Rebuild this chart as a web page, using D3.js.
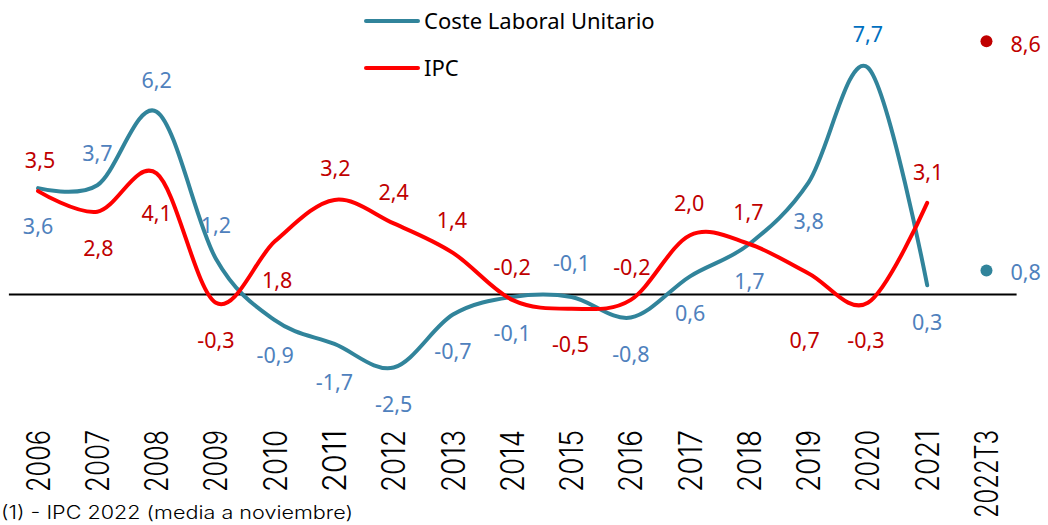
<!DOCTYPE html>
<html>
<head>
<meta charset="utf-8">
<script src="https://cdn.jsdelivr.net/npm/d3@7"></script>
<style>
  html, body { margin: 0; padding: 0; background: #fff; }
  svg { display: block; }
</style>
</head>
<body>
<svg id="chart" width="1048" height="525"></svg>
<script>
// ---- data ----
const categories = ["2006","2007","2008","2009","2010","2011","2012","2013","2014","2015","2016","2017","2018","2019","2020","2021","2022T3"];
const lineYears = categories.slice(0, 16);
const cluValues = [3.6, 3.7, 6.2, 1.2, -0.9, -1.7, -2.5, -0.7, -0.1, -0.1, -0.8, 0.6, 1.7, 3.8, 7.7, 0.3];
const ipcValues = [3.5, 2.8, 4.1, -0.3, 1.8, 3.2, 2.4, 1.4, -0.2, -0.5, -0.2, 2.0, 1.7, 0.7, -0.3, 3.1];
const clu2022 = 0.8;
const ipc2022 = 8.6;
const seriesNames = ["Coste Laboral Unitario", "IPC"];
const footnote = "(1) - IPC 2022 (media a noviembre)";

// ---- label placement (styling, pixels) ----
const cluLabelDy = [38, -32, -31, -33, 35, 38, 37, 37, 36, -34, 37, 37, 37, 39, -33, 37];
const ipcLabelDy = [-31, 37, 40, 37, 39, -32, -31, -33, -33, 36, -33, -32, -32, 67, 37, -31];
const ipcLabelDx = [2, 1, 0, 0, 2, 1, 0, -1, 0, -1, 1, -1, -1, -4, -2, 1];

const fmt = v => d3.format(".1f")(v).replace(".", ",").replace("−", "-");

const svg = d3.select("#chart");
const x = d3.scaleBand().domain(categories).range([8.4, 1016.1]).padding(0);
const cx = c => x(c) + x.bandwidth() / 2;
const y = d3.scaleLinear().domain([-4, 9]).range([294 + 4 * 29.4, 294 - 9 * 29.4]);

const CLU_LINE = "#31849b", IPC_LINE = "#ff0000";
const CLU_TXT = "#4f81bd", CLU_TXT2 = "#0070c0", IPC_TXT = "#c00000";
const labelFont = "'Noto Sans', 'Open Sans', sans-serif";
const gothicFont = "Inter, 'Liberation Sans', sans-serif";

// axis (zero line + rotated year labels)
const axis = d3.axisBottom(x).tickSize(0).tickSizeOuter(0);
const gAxis = svg.append("g").attr("transform", `translate(0,${y(0)})`).call(axis);
gAxis.select(".domain").attr("stroke", "#000").attr("stroke-width", 2.2);
gAxis.selectAll(".tick text")
  .attr("transform", "rotate(-90)")
  .attr("x", -(430 - y(0)))
  .attr("y", 0)
  .attr("dy", "0.36em")
  .attr("text-anchor", "end")
  .attr("fill", "#000")
  .style("font-family", gothicFont)
  .style("font-weight", 300)
  .style("font-size", "32px")
  .attr("textLength", d => d.length === 4 ? 62 : 88)
  .attr("lengthAdjust", "spacingAndGlyphs");

// lines
const line = d3.line()
  .x((d, i) => cx(lineYears[i]))
  .y(d => y(d))
  .curve(d3.curveCatmullRom.alpha(0));

svg.append("path").datum(cluValues)
  .attr("d", line).attr("fill", "none")
  .attr("stroke", CLU_LINE).attr("stroke-width", 4).attr("stroke-linecap", "round");
svg.append("path").datum(ipcValues)
  .attr("d", line).attr("fill", "none")
  .attr("stroke", IPC_LINE).attr("stroke-width", 4).attr("stroke-linecap", "round");

// 2022T3 points
svg.append("circle").attr("cx", cx("2022T3")).attr("cy", y(ipc2022)).attr("r", 6).attr("fill", IPC_TXT);
svg.append("circle").attr("cx", cx("2022T3")).attr("cy", y(clu2022)).attr("r", 6).attr("fill", CLU_LINE);

// data labels
svg.append("g").selectAll("text").data(cluValues).join("text")
  .attr("x", (d, i) => cx(lineYears[i]))
  .attr("y", (d, i) => y(d) + cluLabelDy[i])
  .attr("dy", "0.36em")
  .attr("text-anchor", "middle")
  .attr("fill", (d, i) => i === 14 ? CLU_TXT2 : CLU_TXT)
  .style("font-family", labelFont).style("font-size", "21.5px")
  .text(d => fmt(d));

svg.append("g").selectAll("text").data(ipcValues).join("text")
  .attr("x", (d, i) => cx(lineYears[i]) + ipcLabelDx[i])
  .attr("y", (d, i) => y(d) + ipcLabelDy[i])
  .attr("dy", "0.36em")
  .attr("text-anchor", "middle")
  .attr("fill", IPC_TXT)
  .style("font-family", labelFont).style("font-size", "21.5px")
  .text(d => fmt(d));

svg.append("text").attr("x", cx("2022T3") + 24).attr("y", y(ipc2022) + 3).attr("dy", "0.36em")
  .attr("fill", IPC_TXT).style("font-family", labelFont).style("font-size", "21.5px").text(fmt(ipc2022));
svg.append("text").attr("x", cx("2022T3") + 24).attr("y", y(clu2022) + 2).attr("dy", "0.36em")
  .attr("fill", CLU_TXT).style("font-family", labelFont).style("font-size", "21.5px").text(fmt(clu2022));

// legend
const legend = svg.append("g");
[[seriesNames[0], CLU_LINE, 21], [seriesNames[1], IPC_LINE, 68]].forEach(([name, col, ly]) => {
  legend.append("line").attr("x1", 366).attr("x2", 418).attr("y1", ly).attr("y2", ly)
    .attr("stroke", col).attr("stroke-width", 4).attr("stroke-linecap", "round");
  legend.append("text").attr("x", 424).attr("y", ly).attr("dy", "0.36em")
    .attr("fill", "#000").style("font-family", labelFont).style("font-size", "22px").text(name);
});

// footnote at the bottom edge
svg.append("text").attr("x", 1).attr("y", 519)
  .attr("fill", "#000")
  .style("font-family", gothicFont).style("font-weight", 300).style("font-size", "18px")
  .attr("textLength", 352).attr("lengthAdjust", "spacingAndGlyphs")
  .text(footnote);
</script>
</body>
</html>
